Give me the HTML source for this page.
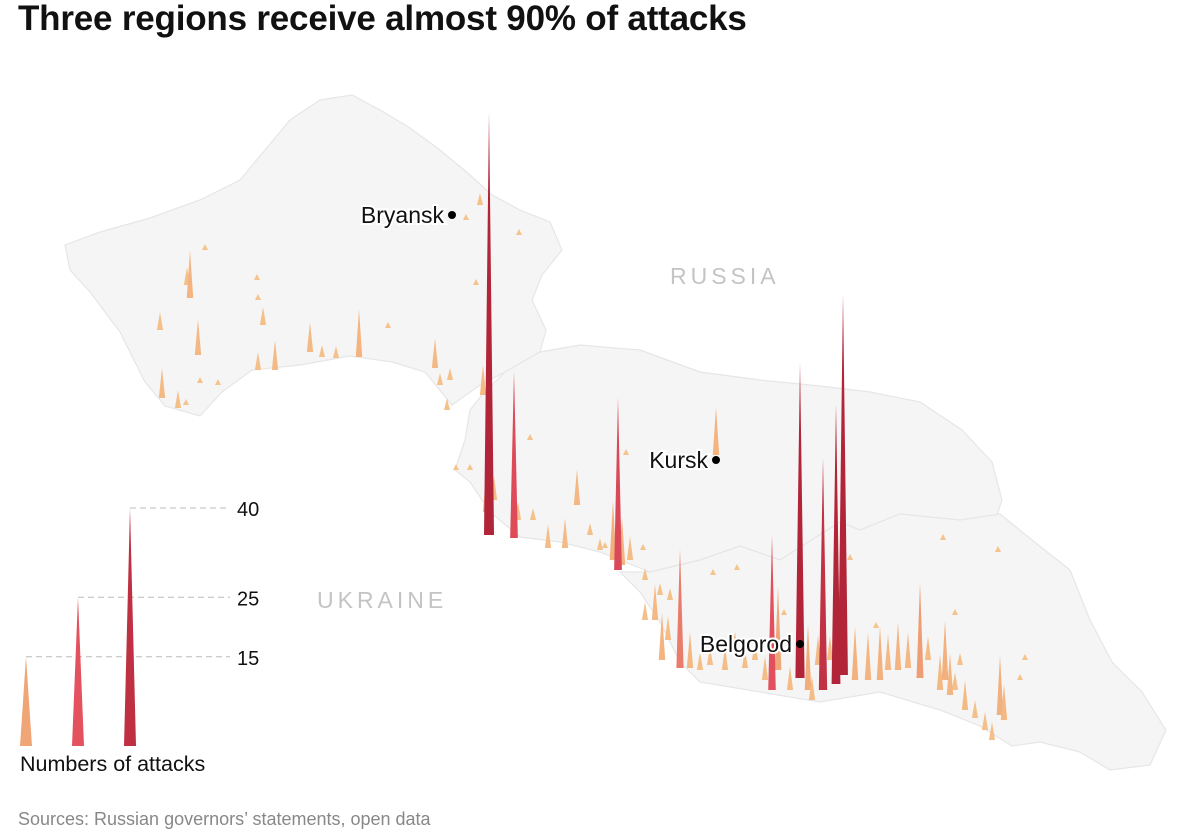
<!DOCTYPE html>
<html><head><meta charset="utf-8">
<style>
body{margin:0;background:#fff;width:1200px;height:832px;overflow:hidden;font-family:"Liberation Sans",sans-serif}
#title{position:absolute;left:18px;top:-1px;font-size:35px;font-weight:bold;color:#111;letter-spacing:-0.2px}
#src{position:absolute;left:18px;top:809px;font-size:18px;color:#888}
</style></head><body>
<div id="title">Three regions receive almost 90% of attacks</div>
<svg id="map" width="1200" height="832" style="position:absolute;left:0;top:0">
<g fill="#f5f5f5" stroke="#e6e6e6" stroke-width="1.2">
<path d="M65,245 L100,232 L150,218 L200,200 L240,180 L265,150 L290,120 L320,100 L352,95 L380,110 L410,128 L440,150 L470,175 L492,195 L520,210 L550,222 L562,250 L542,275 L532,300 L546,330 L540,352 L505,372 L480,385 L452,405 L425,372 L392,362 L350,356 L300,365 L252,370 L222,392 L200,416 L165,406 L145,382 L120,332 L90,292 L70,270 Z"/>
<path d="M540,352 L580,345 L640,350 L700,372 L760,380 L820,386 L870,392 L920,402 L962,430 L992,462 L1002,500 L992,530 L950,520 L900,514 L860,530 L840,522 L780,560 L740,546 L700,560 L650,572 L600,552 L560,542 L520,537 L490,512 L470,482 L455,470 L465,440 L470,410 L482,395 L505,372 Z"/>
<path d="M840,522 L860,530 L900,514 L960,520 L1000,514 L1032,540 L1070,570 L1090,620 L1112,662 L1142,692 L1166,730 L1150,765 L1110,770 L1080,752 L1040,742 L1012,746 L980,726 L940,710 L880,692 L820,702 L760,692 L700,682 L680,662 L660,622 L640,592 L620,572 L650,572 L700,560 L740,546 L780,560 Z"/>
</g>
<text x="670" y="284" font-size="23" fill="#c4c4c4" letter-spacing="4">RUSSIA</text>
<text x="317" y="608" font-size="23" fill="#c4c4c4" letter-spacing="4">UKRAINE</text>
<g id="spikes"></g>
<g id="cities"></g>
<g id="legend"></g>
</svg>
<div id="src">Sources: Russian governors’ statements, open data</div>
<script>
// Attack locations (map coordinates) and counts
const locX=[489,514,618,800,843,836,823,772,680,945,920,716,
190,187,257,258,263,275,310,322,336,359,388,435,160,198,205,162,178,186,218,200,258,440,450,483,466,480,519,476,447,456,470,486,494,
530,548,565,577,590,600,605,533,518,630,643,626,613,622,
645,655,662,668,690,700,710,725,735,745,755,765,790,812,818,830,855,868,880,888,898,908,928,940,950,955,965,975,985,992,1000,1004,1020,1025,955,960,943,998,850,737,713,784,876,645,670,660,778,808];
const locY=[535,538,570,678,675,684,690,690,668,680,678,455,
298,285,280,300,325,370,352,357,358,357,328,368,330,355,250,398,408,405,385,383,370,385,380,395,220,205,235,285,410,470,470,512,500,
440,548,548,505,535,550,548,520,520,560,550,455,560,565,
580,620,660,640,668,670,665,670,650,668,660,680,690,700,665,660,680,680,680,670,670,668,660,690,695,690,710,718,730,740,715,720,680,660,615,665,540,552,560,570,575,615,628,620,600,595,670,690];
const attacks=[71,28,29,53,64,47,39,26,20,10,16,8,
8,3,1,1,3,5,5,2,2,8,1,5,3,6,1,5,3,1,1,1,3,2,2,5,1,2,1,1,2,1,1,6,4,
1,4,5,6,2,2,1,2,3,4,1,1,10,8,
2,6,8,4,6,3,3,4,3,3,3,4,4,4,5,4,9,8,9,6,8,6,4,6,7,3,5,3,3,3,10,6,1,1,1,2,1,1,1,1,1,1,1,3,2,2,14,11];
const legendVals=[15,25,40];
const legendX=[26,78,130];

const NS="http://www.w3.org/2000/svg";
const PX_PER_ATTACK=5.95;
function h(v){return v*PX_PER_ATTACK;}
function color(v){
  const stops=[[1,[245,195,140]],[15,[240,165,118]],[25,[228,82,95]],[45,[178,36,56]]];
  if(v<=stops[0][0])return `rgb(${stops[0][1]})`;
  for(let i=1;i<stops.length;i++){
    if(v<=stops[i][0]){const a=stops[i-1],b=stops[i],t=(v-a[0])/(b[0]-a[0]);
      return 'rgb('+a[1].map((c,k)=>Math.round(c+(b[1][k]-c)*t)).join(',')+')';}
  }
  return 'rgb(178,36,56)';
}
function spike(g,x,y,v,w){
  const p=document.createElementNS(NS,'path');
  p.setAttribute('d',`M${x-w/2},${y} L${x},${y-h(v)} L${x+w/2},${y} Z`);
  p.setAttribute('fill',color(v));
  g.appendChild(p);return p;
}
const sg=document.getElementById('spikes');
const order=attacks.map((v,i)=>i).sort((a,b)=>locY[a]-locY[b]);
order.forEach(i=>{
  const v=attacks[i];
  const p=spike(sg,locX[i],locY[i],v,Math.max(6,Math.min(10,6+v*0.06)));
  
  
});
const cityNames=['Bryansk','Kursk','Belgorod'];
const cityX=[452,716,800];
const cityY=[215,460,644];
const cg=document.getElementById('cities');
cityNames.forEach((n,i)=>{
  const c=document.createElementNS(NS,'circle');
  c.setAttribute('cx',cityX[i]);c.setAttribute('cy',cityY[i]);c.setAttribute('r',4);c.setAttribute('fill','#000');
  
  
  cg.appendChild(c);
  const t=document.createElementNS(NS,'text');
  t.setAttribute('x',cityX[i]-8);t.setAttribute('y',cityY[i]+8);t.setAttribute('text-anchor','end');
  t.setAttribute('font-size','23');t.setAttribute('fill','#111');
  t.setAttribute('stroke','#fff');t.setAttribute('stroke-width','4');t.setAttribute('paint-order','stroke');
  t.textContent=n;
  
  
  cg.appendChild(t);
});
const lg=document.getElementById('legend');
const base=746;
legendVals.forEach((v,i)=>{
  const top=base-h(v);
  const l=document.createElementNS(NS,'line');
  l.setAttribute('x1',legendX[i]);l.setAttribute('x2',230);l.setAttribute('y1',top);l.setAttribute('y2',top);
  l.setAttribute('stroke','#bbb');l.setAttribute('stroke-dasharray','6,4');
  
  
  lg.appendChild(l);
  const p=spike(lg,legendX[i],base,v,12);
  
  
  const t=document.createElementNS(NS,'text');
  t.setAttribute('x',237);t.setAttribute('y',top+8);t.setAttribute('font-size','20');t.setAttribute('fill','#111');
  t.textContent=v;
  
  
  lg.appendChild(t);
});
const lt=document.createElementNS(NS,'text');
lt.setAttribute('x',20);lt.setAttribute('y',771);lt.setAttribute('font-size','21.5');lt.setAttribute('fill','#111');
lt.textContent='Numbers of attacks';


lg.appendChild(lt);
</script>
</body></html>
